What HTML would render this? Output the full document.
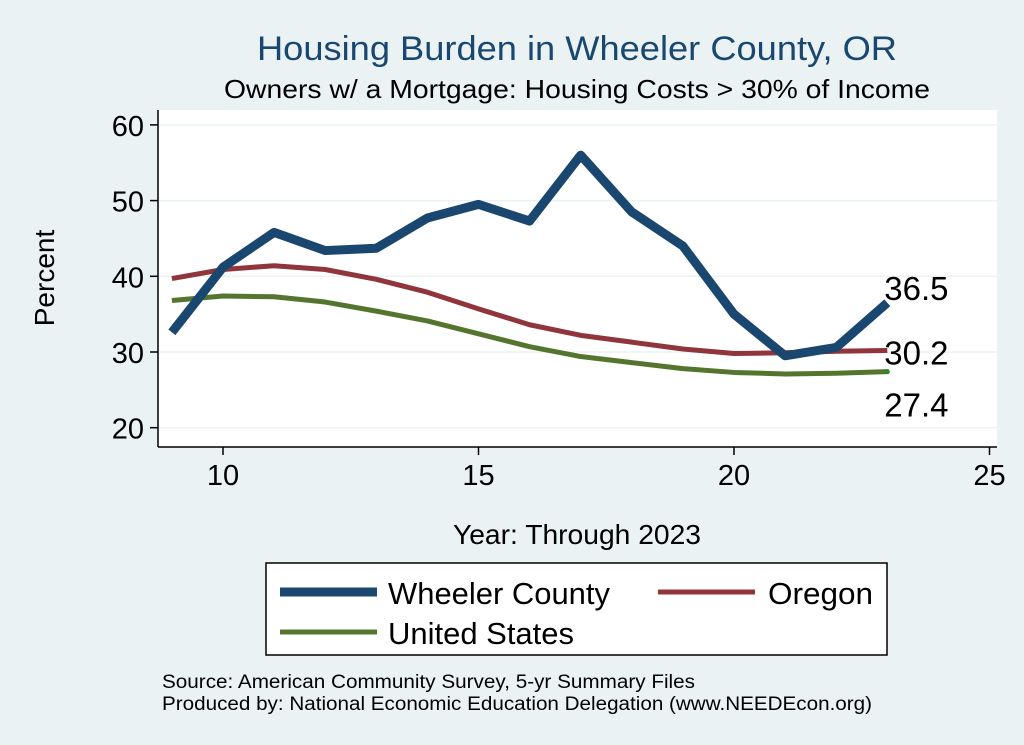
<!DOCTYPE html>
<html><head><meta charset="utf-8"><style>
body{margin:0;background:#eaf2f3;}
svg{display:block;font-family:"Liberation Sans",Arial,sans-serif;}
</style></head><body>
<svg id="chart" width="1024" height="745">
<rect x="0" y="0" width="1024" height="745" fill="#eaf2f3"/>
<text x="257" y="60" font-size="34" fill="#1a476f" textLength="640" lengthAdjust="spacingAndGlyphs">Housing Burden in Wheeler County, OR</text>
<text x="224" y="98" font-size="26" fill="#000" textLength="706" lengthAdjust="spacingAndGlyphs">Owners w/ a Mortgage: Housing Costs &gt; 30% of Income</text>
<rect x="158" y="110" width="839" height="337" fill="#fff"/>
<g id="grid"></g><g id="axes"></g><g id="series"></g>
<text transform="translate(54,278) rotate(-90)" font-size="28" text-anchor="middle">Percent</text>
<text x="453" y="544" font-size="28" textLength="248" lengthAdjust="spacingAndGlyphs">Year: Through 2023</text>
<g>
<rect x="266" y="563" width="621" height="92" fill="#fff" stroke="#000" stroke-width="1.5"/>
<line x1="280" y1="592" x2="377" y2="592" stroke="#1a476f" stroke-width="9"/>
<text x="388" y="604" font-size="31" textLength="222" lengthAdjust="spacingAndGlyphs">Wheeler County</text>
<line x1="658" y1="592" x2="755" y2="592" stroke="#90353b" stroke-width="5"/>
<text x="768" y="604" font-size="31" textLength="105" lengthAdjust="spacingAndGlyphs">Oregon</text>
<line x1="280" y1="632" x2="377" y2="632" stroke="#55752f" stroke-width="5"/>
<text x="388" y="644" font-size="31" textLength="186" lengthAdjust="spacingAndGlyphs">United States</text>
</g>
<text x="162" y="688" font-size="19" textLength="533" lengthAdjust="spacingAndGlyphs">Source: American Community Survey, 5-yr Summary Files</text>
<text x="162" y="710" font-size="19" textLength="710" lengthAdjust="spacingAndGlyphs">Produced by: National Economic Education Delegation (www.NEEDEcon.org)</text>
</svg>
<script>
const years=[9,10,11,12,13,14,15,16,17,18,19,20,21,22,23];
const wheeler=[32.6,41.2,45.8,43.4,43.7,47.7,49.5,47.3,56.0,48.5,44.0,35.0,29.5,30.6,36.5];
const oregon=[39.7,40.9,41.4,40.9,39.6,37.9,35.7,33.6,32.2,31.3,30.4,29.8,29.9,30.1,30.2];
const us=[36.8,37.4,37.3,36.6,35.4,34.1,32.4,30.7,29.4,28.6,27.8,27.3,27.1,27.2,27.4];
const xTicks=[10,15,20,25];
const yTicks=[20,30,40,50,60];
const NS="http://www.w3.org/2000/svg";
const X=v=>223+(v-10)*51.1;
const Y=v=>352-(v-30)*7.57;
function mk(t,a,p){const e=document.createElementNS(NS,t);for(const k in a)e.setAttribute(k,a[k]);p.appendChild(e);return e;}
const grid=document.getElementById('grid'),axes=document.getElementById('axes'),ser=document.getElementById('series');
mk('line',{x1:158,y1:447,x2:997,y2:447,stroke:'#000','stroke-width':1.5},axes);
mk('line',{x1:158,y1:110,x2:158,y2:447,stroke:'#000','stroke-width':1.5},axes);
yTicks.forEach(v=>{
 const g=mk('line',{x1:158,x2:997,y1:Y(v),y2:Y(v),stroke:'#eaf2f3','stroke-width':1.5},grid);
 
 
 mk('line',{x1:150,x2:158,y1:Y(v),y2:Y(v),stroke:'#000','stroke-width':1.5},axes);
 const t=mk('text',{x:144,y:Y(v)+11,'font-size':29,'text-anchor':'end'},axes);t.textContent=v;
 
 
});
xTicks.forEach(v=>{
 mk('line',{x1:X(v),x2:X(v),y1:447,y2:455,stroke:'#000','stroke-width':1.5},axes);
 const t=mk('text',{x:X(v),y:485,'font-size':29,'text-anchor':'middle'},axes);t.textContent=v;
 
 
});
function line(vals,col,w,name){
 const p=mk('polyline',{points:vals.map((v,i)=>X(years[i])+','+Y(v)).join(' '),fill:'none',stroke:col,'stroke-width':w,'stroke-linejoin':'round'},ser);
 
 
}
line(us,'#55752f',5,'us-line');
line(oregon,'#90353b',5,'oregon-line');
line(wheeler,'#1a476f',9,'wheeler-line');
const n=years.length-1;
[[wheeler,-3,'wheeler-end-label'],[oregon,14,'oregon-end-label'],[us,45,'us-end-label']].forEach(([a,dy,nm])=>{
 const t=mk('text',{x:X(years[n])-3,y:Y(a[n])+dy,'font-size':33},ser);t.textContent=a[n].toFixed(1);
 
 
});
mk('circle',{cx:X(years[n]),cy:Y(us[n]),r:2.5,fill:'#2a8a2a'},ser);
</script>
</body></html>
